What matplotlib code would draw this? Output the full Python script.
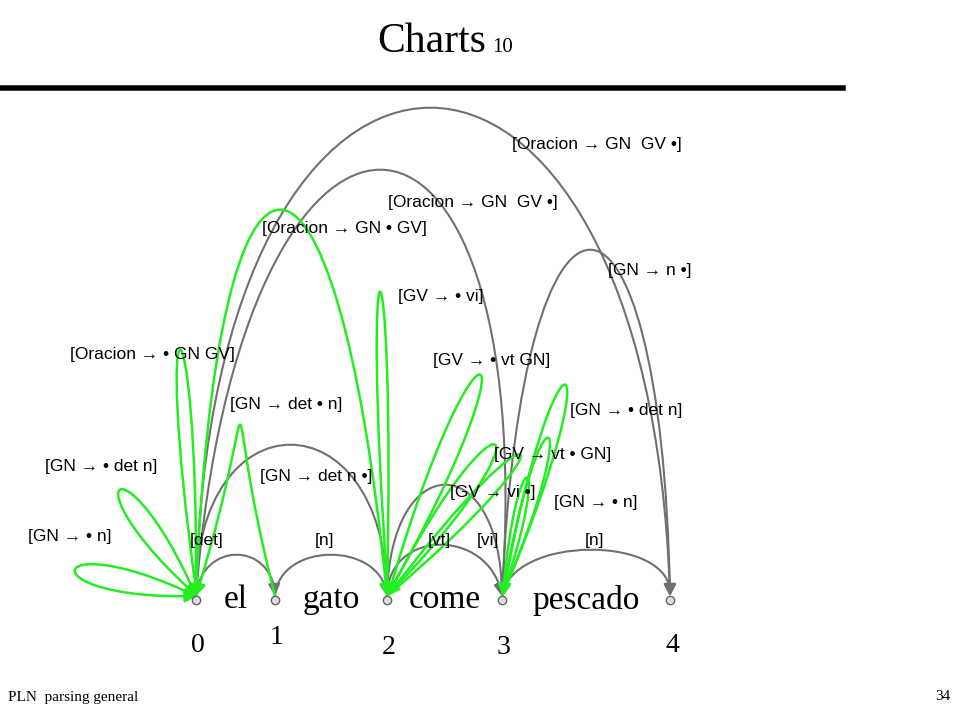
import matplotlib
matplotlib.use("Agg")
import numpy as np
import matplotlib.pyplot as plt
from matplotlib.path import Path
from matplotlib.patches import FancyArrowPatch

node_x = [196, 275, 387, 502, 670]
node_labels = ["0", "1", "2", "3", "4"]
words = ["el", "gato", "come", "pescado"]

# gray (complete) edges: start node, end node, apex x, apex y, spread
gray_edges = [
    (0, 1, 236, 555, 35), (1, 2, 330, 555, 50), (2, 3, 440, 545, 50),
    (2, 3, 445, 485, 55), (3, 4, 590, 550, 80), (0, 2, 290, 445, 95),
    (3, 4, 590, 250, 70), (0, 3, 380, 170, 150), (0, 4, 430, 108, 220),
]
# green (active) edges: start, end, apex x, apex y, half-width
green_edges = [
    (0, 0, 75, 570, 30), (0, 0, 120, 490, 28), (0, 0, 180, 350, 18),
    (1, 0, 240, 425, 25), (0, 2, 280, 210, 60), (2, 2, 380, 292, 14),
    (2, 2, 480, 375, 28), (2, 2, 495, 445, 28), (2, 2, 520, 455, 22),
    (3, 3, 565, 385, 25), (3, 3, 548, 438, 20), (3, 3, 527, 478, 15),
]
labels = [
    ("[GN \u2192 \u2022 n]", 28, 537), ("[GN \u2192 \u2022 det n]", 45, 467),
    ("[Oracion \u2192 \u2022 GN GV]", 70, 355), ("[GN \u2192 det \u2022 n]", 230, 405),
    ("[GN \u2192 det n \u2022]", 260, 476), ("[det]", 190, 541), ("[n]", 315, 541),
    ("[vt]", 428, 541), ("[vi]", 477, 541), ("[n]", 585, 541),
    ("[Oracion \u2192 GN \u2022 GV]", 262, 229), ("[Oracion \u2192 GN  GV \u2022]", 388, 202),
    ("[Oracion \u2192 GN  GV \u2022]", 512, 145), ("[GN \u2192 n \u2022]", 608, 270),
    ("[GV \u2192 \u2022 vi]", 398, 296), ("[GV \u2192 \u2022 vt GN]", 433, 361),
    ("[GN \u2192 \u2022 det n]", 570, 410), ("[GV \u2192 vt \u2022 GN]", 494, 455),
    ("[GV \u2192 vi \u2022]", 450, 493), ("[GN \u2192 \u2022 n]", 554, 503),
]
NY = 600

fig = plt.figure(figsize=(9.6, 7.2), dpi=100)
ax = fig.add_axes([0, 0, 1, 1])
ax.set_xlim(0, 960); ax.set_ylim(720, 0); ax.axis("off")

def add(verts, color, lw):
    p = Path(verts, [Path.MOVETO, Path.CURVE4, Path.CURVE4, Path.CURVE4])
    ax.add_patch(FancyArrowPatch(path=p, arrowstyle="-|>,head_length=7,head_width=3.5",
                                 color=color, lw=lw, mutation_scale=1))

def curve(a, b, px, py, s, color, lw):
    x0, x3 = node_x[a], node_x[b]
    y0 = NY - 4
    if a == b:
        d = np.array([px - x0, py - y0], float)
        n = np.array([-d[1], d[0]]) / np.hypot(*d)
        base = np.array([x0, y0], float) + d * 4 / 3
        add([(x0, y0), tuple(base + n * s * 1.33), tuple(base - n * s * 1.33), (x0 + 1, y0)],
            color, lw)
        return
    cy = (8 * py - 2 * y0) / 6
    m = (8 * px - x0 - x3) / 6
    add([(x0, y0), (m - s, cy), (m + s, cy), (x3, y0)], color, lw)

for e in gray_edges:
    curve(*e, color="#707070", lw=1.5)
for e in green_edges:
    curve(*e, color="#22ee22", lw=1.8)

for x in node_x:
    ax.plot(x, NY, "o", ms=6, mfc="#dddddd", mec="#666666", zorder=5)
for i, w in enumerate(words):
    ax.text((node_x[i] + node_x[i + 1]) / 2, NY, w, ha="center", va="center",
            fontsize=24, family="Liberation Serif",
            bbox=dict(fc="white", ec="none", pad=1), zorder=4)
num_y = [645, 637, 647, 648, 645]
for x, t, y in zip(node_x, node_labels, num_y):
    ax.text(x + 2, y, t, ha="center", va="center", fontsize=20, family="Liberation Serif")
for t, x, y in labels:
    ax.text(x, y, t, ha="left", va="center", fontsize=12.5, family="Liberation Sans")

ax.text(486, 42, "Charts", ha="right", va="center", fontsize=30, family="Liberation Serif")
ax.text(492, 48, "10", ha="left", va="center", fontsize=15, family="Liberation Serif")
ax.plot([0, 843], [88, 88], color="black", lw=4)
ax.text(8, 697, "PLN  parsing general", ha="left", va="center", fontsize=11, family="Liberation Serif")
ax.text(950, 697, "34", ha="right", va="center", fontsize=11, family="Liberation Serif")
fig.savefig("out.png", dpi=100)
